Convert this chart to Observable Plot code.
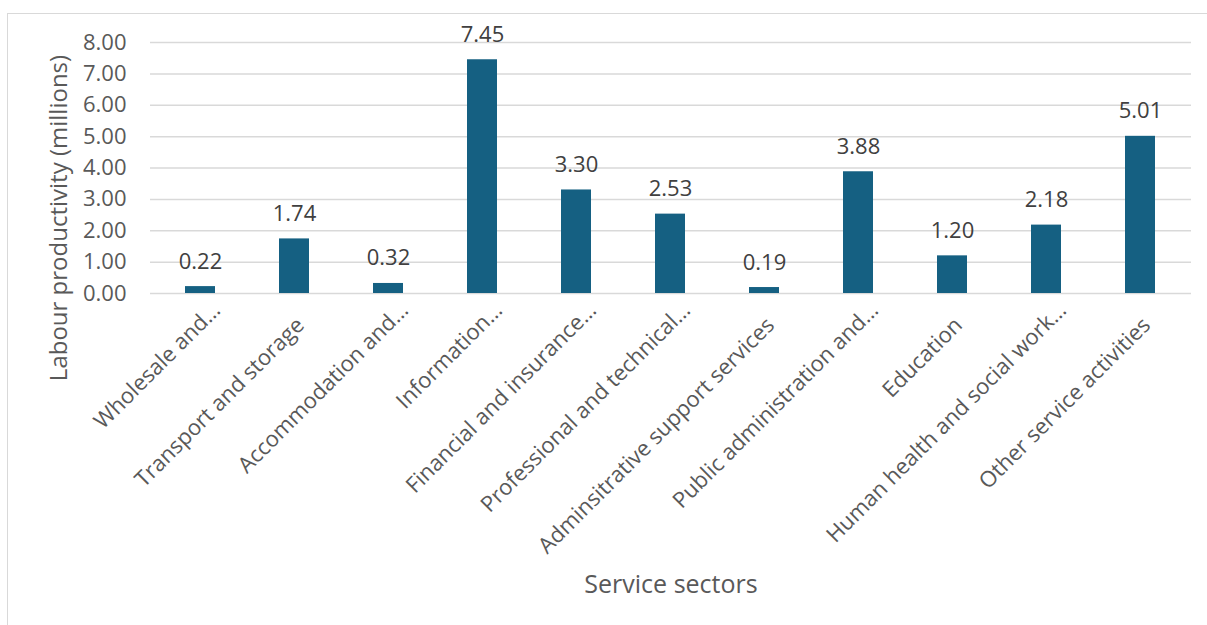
<!DOCTYPE html>
<html>
<head>
<meta charset="utf-8">
<script src="https://cdn.jsdelivr.net/npm/d3@7"></script>
<script src="https://cdn.jsdelivr.net/npm/@observablehq/plot@0.6"></script>
<style>
  html, body { margin: 0; padding: 0; background: #fff; overflow: hidden; }
  #frame { position: absolute; left: 7px; top: 13px; width: 1400px; height: 800px; border: 1.5px solid #d9d9d9; box-sizing: border-box; }
  #chart { position: absolute; left: 0; top: 0; }
</style>
</head>
<body>
<div id="frame"></div>
<div id="chart"></div>
<script>
const sectors = [
  "Wholesale and…",
  "Transport and storage",
  "Accommodation and…",
  "Information…",
  "Financial and insurance…",
  "Professional and technical…",
  "Adminsitrative support services",
  "Public administration and…",
  "Education",
  "Human health and social work…",
  "Other service activities"
];
const productivity = [0.22, 1.74, 0.32, 7.45, 3.30, 2.53, 0.19, 3.88, 1.20, 2.18, 5.01];
const yTicks = [0, 1, 2, 3, 4, 5, 6, 7, 8];
const yTitle = "Labour productivity (millions)";
const xTitle = "Service sectors";

const data = sectors.map((s, i) => ({sector: s, value: productivity[i]}));
const font = "'Open Sans', 'Liberation Sans', sans-serif";
const fullLabels = data.filter(d => !d.sector.endsWith("…"));
const cutLabels = data.filter(d => d.sector.endsWith("…"));
const labelStyle = {x: "sector", text: "sector", frameAnchor: "bottom", rotate: -45, textAnchor: "end", lineAnchor: "top", fontSize: 22, fill: "#595959"};

const chart = Plot.plot({
  width: 1207,
  height: 625,
  marginLeft: 150,
  marginRight: 16,
  marginTop: 42,
  marginBottom: 332,
  style: {fontFamily: font, background: "transparent", overflow: "visible"},
  x: {domain: sectors, paddingInner: 0.68, paddingOuter: 0.34, axis: null},
  y: {domain: [0, 8], axis: null},
  marks: [
    Plot.ruleY(yTicks, {stroke: "#d9d9d9", strokeWidth: 1.5}),
    Plot.axisY(yTicks, {tickSize: 0, tickPadding: 24, tickFormat: d => d.toFixed(2), fontSize: 22, fill: "#595959", label: null}),
    Plot.barY(data, {x: "sector", y: "value", fill: "#156082"}),
    Plot.text(data, {x: "sector", y: "value", text: d => d.value.toFixed(2), lineAnchor: "bottom", dy: -18, fontSize: 22, fill: "#404040"}),
    Plot.text(fullLabels, {...labelStyle, dx: 0, dy: 22}),
    Plot.text(cutLabels, {...labelStyle, dx: 10, dy: 7}),
    Plot.text([yTitle], {text: d => d, frameAnchor: "left", rotate: -90, lineAnchor: "middle", textAnchor: "middle", dx: -91, dy: 50, fontSize: 24, fill: "#595959"}),
    Plot.text([xTitle], {text: d => d, frameAnchor: "bottom", lineAnchor: "middle", textAnchor: "middle", dy: 291, fontSize: 25, fill: "#595959"})
  ]
});
document.getElementById("chart").appendChild(chart);
</script>
</body>
</html>
